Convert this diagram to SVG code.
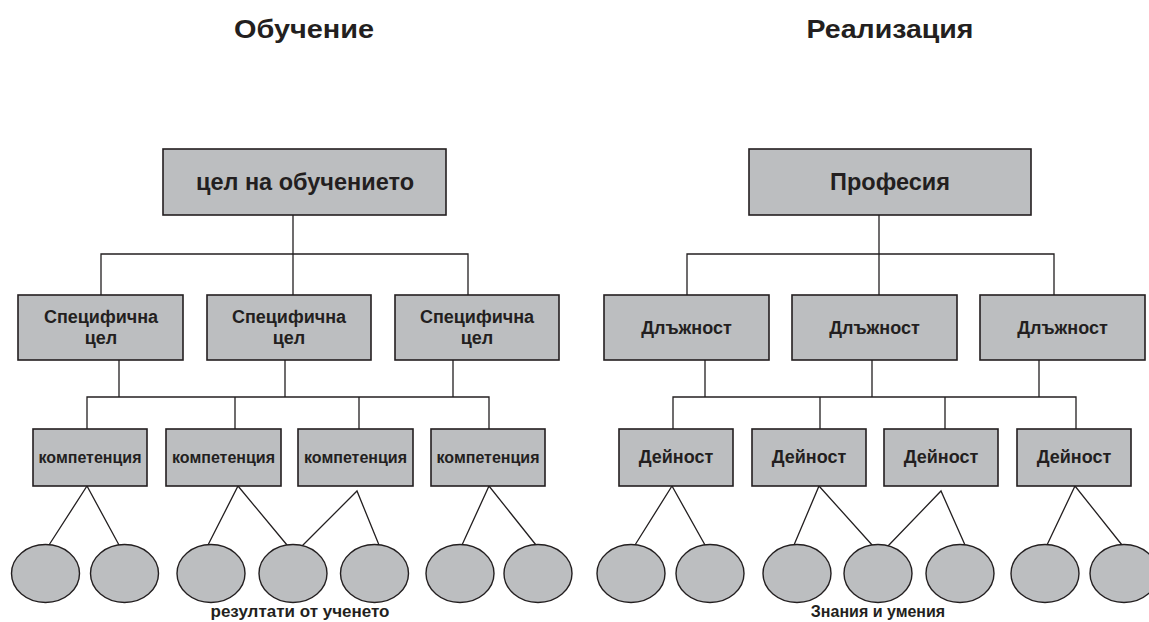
<svg xmlns="http://www.w3.org/2000/svg" width="1149" height="622" viewBox="0 0 1149 622">
<style>
.box{fill:#bcbec0;stroke:#231f20;stroke-width:1.6}
.ell{fill:#bcbec0;stroke:#231f20;stroke-width:1.4}
.con{fill:none;stroke:#231f20;stroke-width:1.3}
text{font-family:"Liberation Sans",Arial,sans-serif;font-weight:bold;fill:#231f20;text-anchor:middle}
.t0{font-size:26px}
.t1{font-size:23.5px}
.t2{font-size:18px}
.t3{font-size:16px}
.t4{font-size:17px}
</style>
<rect width="1149" height="622" fill="#ffffff"/>
<g id="titles">
<text class="t0" x="304" y="38" textLength="140" lengthAdjust="spacingAndGlyphs">Обучение</text>
<text class="t0" x="890" y="38" textLength="167" lengthAdjust="spacingAndGlyphs">Реализация</text>
</g>
<g id="connectors">
<path class="con" d="M293 215V254M101 295V254H468V295M293 254V295"/>
<path class="con" d="M119 360V397M285 360V397M453 360V397M87 429V397H489V429M235 397V429M359 397V429"/>
<path class="con" d="M49 545L87 486L119 545M208 545L238 486L287 545M302 546L357 491L379 545M462 545L489 486L536 545"/>
<path class="con" d="M879 215V254M687 295V254H1054V295M879 254V295"/>
<path class="con" d="M705 360V397M872 360V397M1039 360V397M673 429V397H1076V429M820 397V429M945 397V429"/>
<path class="con" d="M635 545L672 486L705 545M794 545L819 486L873 546M888 546L941 491L965 545M1047 545L1075 486L1122 545"/>
</g>
<g id="goal"><rect class="box" x="163" y="149" width="283" height="66"/><text class="t1" x="305" y="190">цел на обучението</text></g>
<g id="sg1"><rect class="box" x="18" y="295" width="165" height="65"/><text class="t2" x="101" y="323">Специфична</text><text class="t2" x="101" y="344">цел</text></g>
<g id="sg2"><rect class="box" x="207" y="295" width="164" height="65"/><text class="t2" x="289" y="323">Специфична</text><text class="t2" x="289" y="344">цел</text></g>
<g id="sg3"><rect class="box" x="395" y="295" width="164" height="65"/><text class="t2" x="477" y="323">Специфична</text><text class="t2" x="477" y="344">цел</text></g>
<g id="c1"><rect class="box" x="33" y="429" width="114" height="57"/><text class="t3" x="90" y="463">компетенция</text></g>
<g id="c2"><rect class="box" x="166" y="429" width="115" height="57"/><text class="t3" x="223.5" y="463">компетенция</text></g>
<g id="c3"><rect class="box" x="298" y="429" width="115" height="57"/><text class="t3" x="355.5" y="463">компетенция</text></g>
<g id="c4"><rect class="box" x="431" y="429" width="114" height="57"/><text class="t3" x="488" y="463">компетенция</text></g>
<g id="lo">
<ellipse class="ell" cx="45.5" cy="573.5" rx="34" ry="29"/>
<ellipse class="ell" cx="124.5" cy="573.5" rx="34" ry="29"/>
<ellipse class="ell" cx="211" cy="573.5" rx="34" ry="29"/>
<ellipse class="ell" cx="293" cy="573.5" rx="34" ry="29"/>
<ellipse class="ell" cx="374.5" cy="573.5" rx="34" ry="29"/>
<ellipse class="ell" cx="460" cy="573.5" rx="34" ry="29"/>
<ellipse class="ell" cx="538" cy="573.5" rx="34" ry="29"/>
<text class="t4" x="300" y="617">резултати от ученето</text>
</g>
<g id="prof"><rect class="box" x="749" y="149" width="282" height="66"/><text class="t1" x="890" y="190">Професия</text></g>
<g id="p1"><rect class="box" x="604" y="295" width="165" height="65"/><text class="t2" x="686.5" y="334">Длъжност</text></g>
<g id="p2"><rect class="box" x="792" y="295" width="165" height="65"/><text class="t2" x="874.5" y="334">Длъжност</text></g>
<g id="p3"><rect class="box" x="980" y="295" width="165" height="65"/><text class="t2" x="1062.5" y="334">Длъжност</text></g>
<g id="a1"><rect class="box" x="619" y="429" width="114" height="57"/><text class="t2" x="676" y="463">Дейност</text></g>
<g id="a2"><rect class="box" x="752" y="429" width="114" height="57"/><text class="t2" x="809" y="463">Дейност</text></g>
<g id="a3"><rect class="box" x="884" y="429" width="114" height="57"/><text class="t2" x="941" y="463">Дейност</text></g>
<g id="a4"><rect class="box" x="1017" y="429" width="114" height="57"/><text class="t2" x="1074" y="463">Дейност</text></g>
<g id="ks">
<ellipse class="ell" cx="631" cy="573.5" rx="34" ry="29"/>
<ellipse class="ell" cx="710" cy="573.5" rx="34" ry="29"/>
<ellipse class="ell" cx="797" cy="573.5" rx="34" ry="29"/>
<ellipse class="ell" cx="878" cy="573.5" rx="34" ry="29"/>
<ellipse class="ell" cx="960" cy="573.5" rx="34" ry="29"/>
<ellipse class="ell" cx="1045" cy="573.5" rx="34" ry="29"/>
<ellipse class="ell" cx="1124" cy="573.5" rx="34" ry="29"/>
<text class="t3" x="878" y="617">Знания и умения</text>
</g>
</svg>
